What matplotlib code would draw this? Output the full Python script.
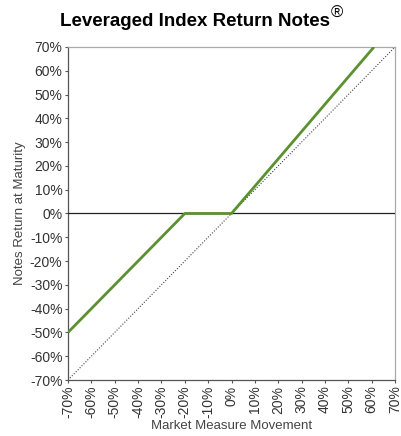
import matplotlib
matplotlib.use("Agg")
import matplotlib.pyplot as plt
from matplotlib.ticker import FuncFormatter

plt.rcParams['font.family'] = ['Liberation Sans', 'DejaVu Sans']

# Data
notes_x = [-70, -20, 0, 61]
notes_y = [-50, 0, 0, 70]
ref_x = [-70, 70]
ref_y = [-70, 70]
ticks = list(range(-70, 71, 10))

fig = plt.figure(figsize=(4.01, 4.36), dpi=100)
ax = fig.add_axes([68/401, 1-380/436, (395-68)/401, (380-47)/436])

ax.plot(ref_x, ref_y, color='#444444', lw=0.8, ls=(0, (1, 1.5)), zorder=2)
ax.axhline(0, color='#222222', lw=0.9, zorder=3)
ax.plot(notes_x, notes_y, color='#5b9131', lw=2.0, zorder=4, solid_capstyle='butt')

ax.set_xlim(-70, 70)
ax.set_ylim(-70, 70)
ax.set_xticks(ticks)
ax.set_yticks(ticks)
fmt = FuncFormatter(lambda v, p: f"{int(v)}%")
ax.xaxis.set_major_formatter(fmt)
ax.yaxis.set_major_formatter(fmt)
ax.tick_params(axis='both', labelsize=10, colors='#555555', labelcolor='#333333',
               length=2.5, width=0.8, direction='out', pad=1.5)
ax.tick_params(axis='x', labelrotation=90)

for s in ['left', 'bottom']:
    ax.spines[s].set_color('#555555')
    ax.spines[s].set_linewidth(0.9)
for s in ['top', 'right']:
    ax.spines[s].set_color('#aaaaaa')
    ax.spines[s].set_linewidth(0.9)

ax.set_xlabel('Market Measure Movement', fontsize=9.5, color='#444444', labelpad=1.5)
ax.set_ylabel('Notes Return at Maturity', fontsize=9.5, color='#444444', labelpad=3)

fig.text(195/401, 1-22/436, 'Leveraged Index Return Notes', ha='center', va='center',
         fontsize=13.5, fontweight='bold', color='black')
fig.text(331/401, 1-13/436, '®', ha='left', va='center',
         fontsize=12, color='black')

fig.savefig('out.png', dpi=100)
